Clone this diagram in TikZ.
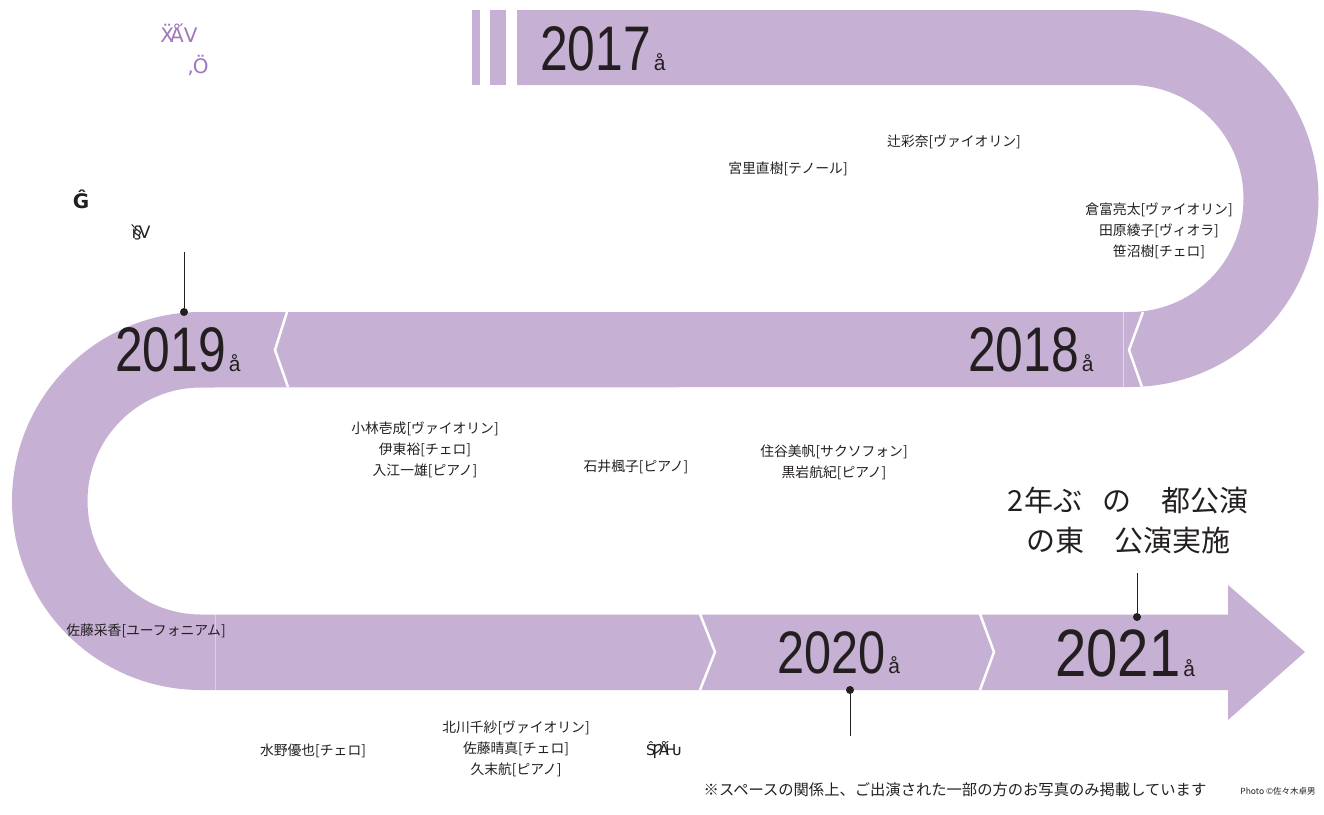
\documentclass[tikz,border=0pt]{standalone}
\usepackage{fontspec}
\setmainfont{Liberation Sans}
\newfontfamily\jp{Noto Sans CJK JP}
\newfontfamily\dvs{DejaVu Sans}
\definecolor{band}{RGB}{198,177,213}
\definecolor{ink}{RGB}{35,31,32}
\definecolor{garb}{RGB}{160,118,190}
\newcommand{\yr}[3]{\fontsize{#2}{#2}\selectfont\scalebox{#3}[1]{#1}\hspace{3pt}{\fontsize{21}{21}\selectfont å}}
\tikzset{
  person/.style={font=\jp\fontsize{13.8}{21}\selectfont, text=ink, align=center, inner sep=0},
  yearlbl/.style={anchor=base west, inner sep=0, text=ink},
  chev/.style={draw=white, line width=2.5pt},
  dotmark/.style={circle, fill=ink, inner sep=0, minimum size=8pt},
  lead/.style={draw=ink, line width=0.8pt},
  garbled/.style={font=\dvs\fontsize{20}{20}\selectfont, inner sep=0},
}
\begin{document}
\begin{tikzpicture}[x=1pt,y=1pt]
\useasboundingbox (0,0) rectangle (1324,-814);
% ribbon
\fill[band] (517,-10) -- (1130,-10) arc[start angle=90, end angle=-90, radius=188.5]
  -- (201,-387.5) arc[start angle=90, end angle=270, radius=113.5]
  -- (1228,-614.5) -- (1228,-585) -- (1305,-652) -- (1228,-720) -- (1228,-690)
  -- (201,-690) arc[start angle=270, end angle=90, radius=189]
  -- (1130,-312) arc[start angle=-90, end angle=90, radius=113.5]
  -- (517,-85) -- cycle;
\fill[band] (472,-10) rectangle (480,-85);
\fill[band] (490,-10) rectangle (506,-85);
% separators
\draw[white, opacity=0.5, line width=0.6pt] (1123,-312) -- (1123,-387);
\draw[white, opacity=0.4, line width=0.6pt] (215,-614.5) -- (215,-690);
\draw[chev] (1143,-312) -- (1129,-350) -- (1142,-387);
\draw[chev] (287,-312) -- (275,-350) -- (288,-387);
\draw[chev] (700,-614) -- (715,-652) -- (700,-690);
\draw[chev] (980,-614) -- (994,-652) -- (980,-690);
% years
\node[yearlbl] (y2017) at (540,-70) {\yr{2017}{63}{0.79}};
\node[yearlbl] (y2018) at (968,-371) {\yr{2018}{63}{0.79}};
\node[yearlbl] (y2019) at (115,-371) {\yr{2019}{63}{0.79}};
\node[yearlbl] (y2020) at (777,-673) {\yr{2020}{60}{0.81}};
\node[yearlbl] (y2021) at (1055,-676) {\yr{2021}{67}{0.84}};
% leaders
\node[dotmark] (d2019) at (184,-312) {};
\coordinate (t2019) at (184,-252);
\draw[lead] (t2019) -- (d2019);
\node[dotmark] (d2020) at (850,-690) {};
\coordinate (t2020) at (850,-736);
\draw[lead] (d2020) -- (t2020);
\node[dotmark] (d2021) at (1137,-617) {};
\coordinate (t2021) at (1137,-573);
\draw[lead] (t2021) -- (d2021);
% headline
\node[font=\jp\fontsize{29}{40}\selectfont, text=ink, align=center, inner sep=0] (head) at (1128,-520)
  {2年ぶ\hspace{20pt}の\hspace{30pt}都公演\\の東\hspace{30pt}公演実施};
% names
\node[person] (n1) at (954,-142) {辻彩奈[ヴァイオリン]};
\node[person] (n2) at (788,-169) {宮里直樹[テノール]};
\node[person] (n3) at (1159,-231) {倉富亮太[ヴァイオリン]\\田原綾子[ヴィオラ]\\笹沼樹[チェロ]};
\node[person] (n4) at (425,-450) {小林壱成[ヴァイオリン]\\伊東裕[チェロ]\\入江一雄[ピアノ]};
\node[person] (n5) at (636,-467) {石井楓子[ピアノ]};
\node[person] (n6) at (834,-462) {住谷美帆[サクソフォン]\\黒岩航紀[ピアノ]};
\node[person] (n7) at (146,-631) {佐藤采香[ユーフォニアム]};
\node[person] (n8) at (313,-751) {水野優也[チェロ]};
\node[person] (n9) at (516,-749) {北川千紗[ヴァイオリン]\\佐藤晴真[チェロ]\\久末航[ピアノ]};
% garbled glyph runs
\node[garbled, text=garb] (g1) at (179,-33) {Ẍ\kern-4ptǺV};
\node[garbled, text=garb] (g2) at (198,-66) {‚\kern-1ptÖ};
\node[garbled, text=ink, font=\dvs\bfseries\fontsize{20}{20}\selectfont] (g3) at (81,-199) {Ĝ};
\node[garbled, text=ink, font=\dvs\fontsize{17}{17}\selectfont] (g4) at (141,-233) {ì\kern-3pt§\kern-3ptV};
\node[garbled, text=ink, font=\dvs\fontsize{15}{15}\selectfont] (g5) at (664,-750) {Ŝ\kern-3ptǷ\kern-4ptǺ\kern-4ptǶ};
% footer
\node[font=\jp\fontsize{15.3}{15.3}\selectfont, text=ink, inner sep=0] (note) at (955,-790) {※スペースの関係上、ご出演された一部の方のお写真のみ掲載しています};
\node[font=\jp\fontsize{8.5}{8.5}\selectfont, text=ink, inner sep=0] (credit) at (1278,-791) {Photo ©佐々木卓男};
\end{tikzpicture}
\end{document}
